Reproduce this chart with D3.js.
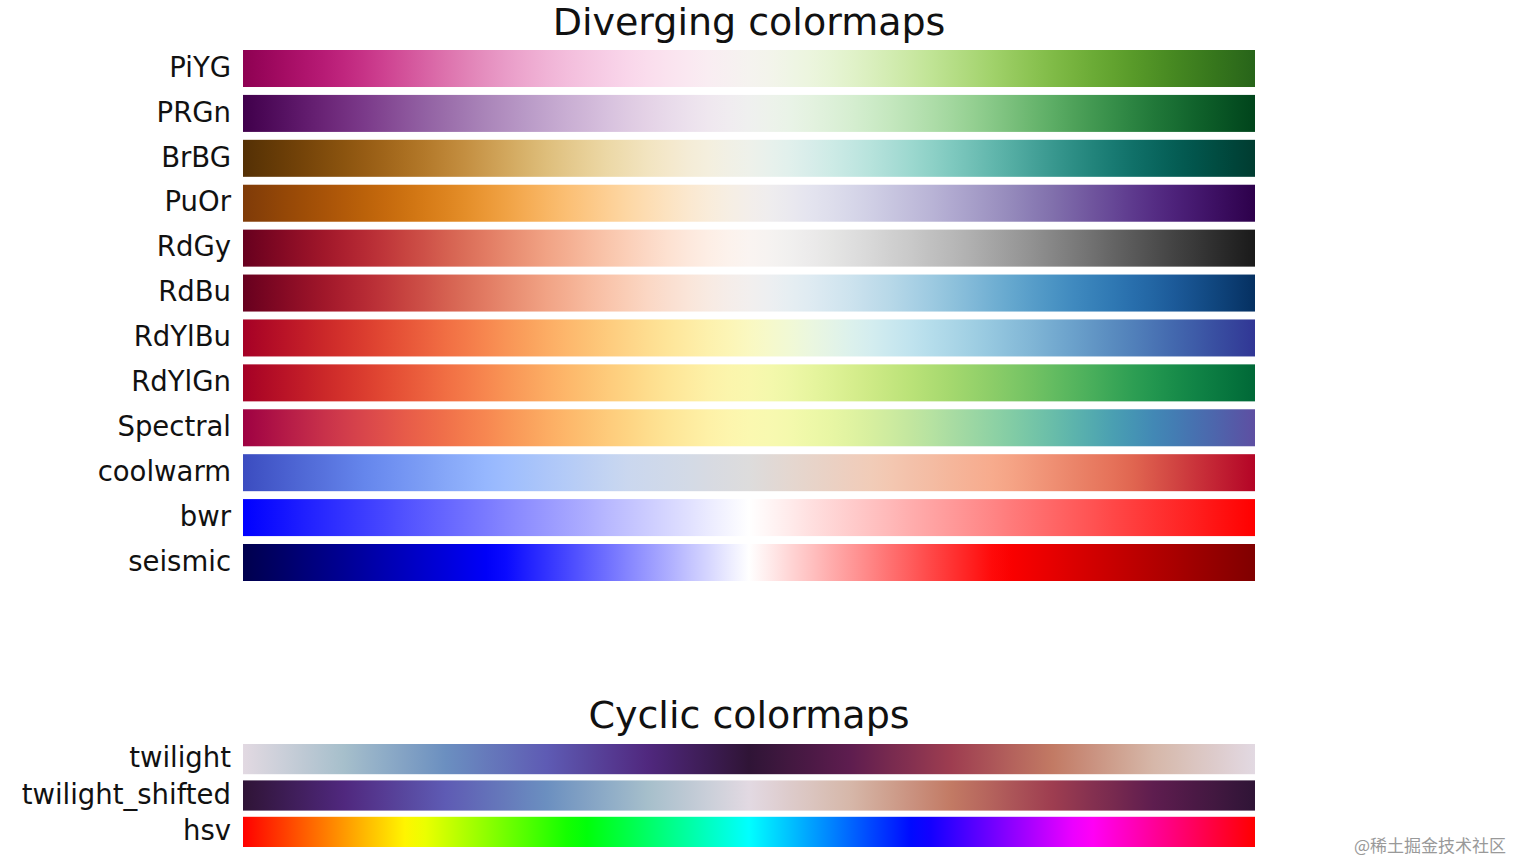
<!DOCTYPE html>
<html><head><meta charset="utf-8">
<script src="https://cdn.jsdelivr.net/npm/d3@7"></script>
<style>body{margin:0;background:#fff}</style></head>
<body><svg id="c" width="1514" height="862"></svg>
<script>
const divergingNames = ["PiYG","PRGn","BrBG","PuOr","RdGy","RdBu","RdYlBu","RdYlGn","Spectral","coolwarm","bwr","seismic"];
const cyclicNames = ["twilight","twilight_shifted","hsv"];
const coolwarmStops = ["#3b4cc0","#6788ee","#9abbff","#c9d7f0","#dddcdc","#f2cbb7","#f7a889","#e26952","#b40426"];
const bwrStops = ["#0000ff","#ffffff","#ff0000"];
const seismicStops = ["#00004d","#0000ff","#ffffff","#ff0000","#800000"];
const twilightStops = ["#e2d9e2","#a6bfcb","#6b8fc0","#5e5bb4","#50287e","#2f1436","#5e1d4f","#9e3d50","#c27a64","#d6b7a9","#e2d9e2"];
const hsvStops = ["#ff0000","#ffff00","#00ff00","#00ffff","#0000ff","#ff00ff","#ff0000"];

const ramp = s => d3.piecewise(d3.interpolateRgb, s);
const twi = ramp(twilightStops);
const interp = {
  PiYG:d3.interpolatePiYG, PRGn:d3.interpolatePRGn, BrBG:d3.interpolateBrBG, PuOr:t=>d3.interpolatePuOr(1-t),
  RdGy:d3.interpolateRdGy, RdBu:d3.interpolateRdBu, RdYlBu:d3.interpolateRdYlBu, RdYlGn:d3.interpolateRdYlGn,
  Spectral:d3.interpolateSpectral, coolwarm:ramp(coolwarmStops), bwr:ramp(bwrStops), seismic:ramp(seismicStops),
  twilight:twi, twilight_shifted:t=> t<0.5 ? twi(0.5-t) : twi(1.5-t), hsv:ramp(hsvStops)
};
const svg = d3.select("#c");
const defs = svg.append("defs");
const x = d3.scaleLinear().domain([0,1]).range([243,1255]);
const font = "DejaVu Sans, sans-serif";

function grad(name){
  const g = defs.append("linearGradient").attr("id","g_"+name);
  d3.range(0,1.0001,0.02).forEach(t=>g.append("stop").attr("offset",t).attr("stop-color",interp[name](t)));
  return "url(#g_"+name+")";
}
function block(names, y, title, titleY){
  svg.append("text").attr("x",749).attr("y",titleY).attr("text-anchor","middle")
    .attr("font-family",font).attr("font-size",38).attr("fill","#111").text(title);
  names.forEach(n=>{
    svg.append("rect").attr("x",x(0)).attr("width",x(1)-x(0)).attr("y",y(n)).attr("height",y.bandwidth()).attr("fill",grad(n));
    svg.append("text").attr("x",231).attr("y",y(n)+y.bandwidth()/2).attr("dy","0.3em").attr("text-anchor","end")
      .attr("font-family",font).attr("font-size",27.5).attr("fill","#111").text(n);
  });
}
block(divergingNames, d3.scaleBand().domain(divergingNames).range([50,581]).paddingInner(0.176).paddingOuter(0), "Diverging colormaps", 35);
block(cyclicNames, d3.scaleBand().domain(cyclicNames).range([744,847]).paddingInner(0.17).paddingOuter(0), "Cyclic colormaps", 728);
svg.append("text").attr("x",1506).attr("y",852).attr("text-anchor","end").attr("font-family","Noto Sans CJK SC")
  .attr("font-size",17).attr("fill","#999").text("@稀土掘金技术社区");
</script></body></html>
